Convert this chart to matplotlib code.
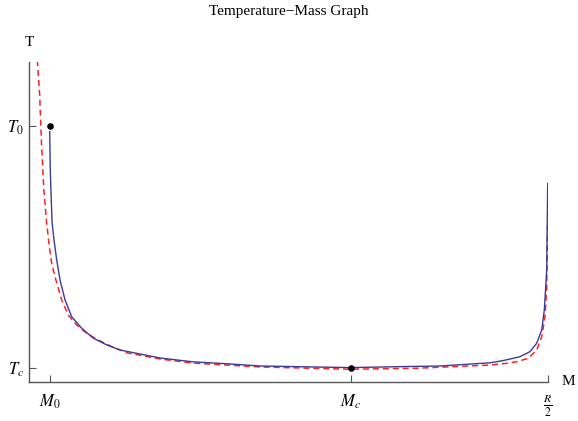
import matplotlib
matplotlib.use("Agg")
import matplotlib.pyplot as plt

plt.rcParams['font.family'] = ['Liberation Serif', 'DejaVu Serif']
plt.rcParams['mathtext.fontset'] = 'stix'

# values, in units where R/2 = 1 and top of the axis = 1
blue_m = [0.0393, 0.0405, 0.0438, 0.0476, 0.0528, 0.0592, 0.0688, 0.0817, 0.1010,
          0.1234, 0.1492, 0.1749, 0.2520, 0.3156, 0.3811, 0.4447, 0.6181, 0.7148,
          0.7917, 0.8882, 0.9138, 0.9460, 0.9653, 0.9782, 0.9879, 0.9929, 0.9975,
          0.9994]
blue_t = [0.781, 0.656, 0.500, 0.443, 0.381, 0.318, 0.256, 0.203, 0.167,
          0.136, 0.115, 0.099, 0.074, 0.062, 0.056, 0.049, 0.044, 0.047,
          0.049, 0.059, 0.066, 0.078, 0.094, 0.120, 0.162, 0.224, 0.349,
          0.620]

red_m = [0.0154, 0.0200, 0.0231, 0.0278, 0.0332, 0.0386, 0.0432, 0.0495, 0.0625,
         0.0752, 0.0914, 0.1107, 0.1330, 0.1556, 0.1884, 0.2520, 0.3156, 0.3811,
         0.4447, 0.6181, 0.7469, 0.8882, 0.9204, 0.9397, 0.9620, 0.9782, 0.9879,
         0.9942, 0.9975, 0.9994]
red_t = [1.005, 0.896, 0.762, 0.605, 0.500, 0.422, 0.370, 0.328, 0.255,
         0.208, 0.177, 0.151, 0.130, 0.112, 0.090, 0.071, 0.058, 0.052,
         0.046, 0.039, 0.042, 0.052, 0.0575, 0.0625, 0.073, 0.099, 0.141,
         0.203, 0.297, 0.500]

pts_m = [0.040, 0.620]
pts_t = [0.799, 0.043]

xticks = [0.040, 0.620, 1.0]
xlabels = [r'$M_0$', r'$M_c$', r'$\frac{R}{2}$']
yticks = [0.799, 0.043]
ylabels = [r'$T_0$', r'$T_c$']

fig = plt.figure(figsize=(5.78, 4.21), dpi=100)
ax = fig.add_axes([0.0507, 0.0934, 0.8974, 0.76])

ax.plot(red_m, red_t, color='#ff2020', linestyle=(0, (4, 2.5)), linewidth=1.1)
ax.plot(blue_m, blue_t, color='#3a3a9a', linewidth=1.0)
ax.scatter(pts_m, pts_t, color='black', s=14, zorder=5, clip_on=False)

ax.set_xlim(0, 1)
ax.set_ylim(0, 1)

for s in ['top', 'right']:
    ax.spines[s].set_visible(False)
for s in ['left', 'bottom']:
    ax.spines[s].set_color('#555555')
    ax.spines[s].set_linewidth(1.0)

ax.set_xticks(xticks)
ax.set_xticklabels(xlabels, fontsize=12)
ax.set_yticks(yticks)
ax.set_yticklabels(ylabels, fontsize=12)
ax.tick_params(direction='in', length=5, color='#555555')
ax.tick_params(axis='x', pad=8)
ax.tick_params(axis='y', pad=4)

ax.text(0, 1.06, 'T', transform=ax.transAxes, ha='center', va='center', fontsize=11)
ax.text(1.04, 0.0, 'M', transform=ax.transAxes, ha='center', va='center', fontsize=11)
fig.text(0.5, 0.972, 'Temperature\u2212Mass Graph', ha='center', va='center', fontsize=11)

fig.savefig('out.png', dpi=100)
